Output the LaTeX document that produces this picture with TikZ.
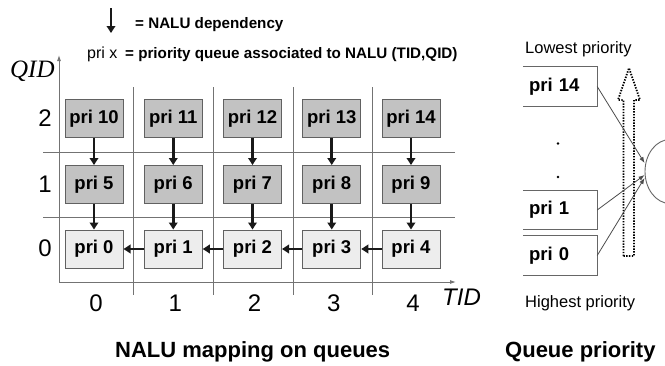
\documentclass[tikz,border=0pt]{standalone}
\usepackage{fontspec}
\setmainfont{Liberation Sans}
\newfontfamily\serifit{Liberation Serif}
\usetikzlibrary{arrows.meta,shapes.geometric,calc}
\newcommand\setfs[1]{\fontsize{#1}{#1}\selectfont}
\begin{document}
\begin{tikzpicture}[x=1pt,y=-1pt,
  gridln/.style={draw=black!55, line width=0.9pt},
  axisln/.style={draw=black!55, line width=0.9pt, -{Latex[length=6pt,width=4pt]}},
  qbox/.style={draw=black!62, line width=1pt, minimum width=58pt, minimum height=38pt, inner sep=0pt, font=\setfs{18.5}\bfseries},
  hi/.style={qbox, fill=black!24},
  lo/.style={qbox, fill=black!7},
  dep/.style={draw=black!90, line width=2.7pt, -{Triangle[length=7pt,width=8.5pt]}},
  rowlab/.style={inner sep=0pt, font=\setfs{24}},
  collab/.style={inner sep=0pt, font=\setfs{24}},
  legtxt/.style={inner sep=0pt, anchor=base west, font=\setfs{15.2}\bfseries},
  title/.style={inner sep=0pt, anchor=base west, font=\setfs{22}\bfseries},
  prio/.style={inner sep=0pt, anchor=base west, font=\setfs{16.5}},
  queue/.style={minimum width=74pt, minimum height=39pt, inner xsep=6pt, inner ysep=0pt, text width=62pt, align=left, font=\setfs{18.5}\bfseries},
  qside/.style={draw=black!60, line width=1pt},
  thinarr/.style={draw=black!70, line width=0.8pt, -{Latex[length=6pt,width=4.5pt]}},
  hollow/.style={draw=black, line width=1.8pt, dash pattern=on 1.4pt off 1.4pt}
]
\useasboundingbox (0,0) rectangle (665,365);

% legend
\coordinate (lgtop) at (111,8);
\coordinate (lgbot) at (111,33);
\draw[dep] (lgtop) -- (lgbot);
\node[legtxt] (lgdep) at (135,28) {= NALU dependency};
\node[inner sep=0pt, anchor=base west, font=\setfs{16}] (lgpri) at (87,58) {pri x};
\node[legtxt] (lgq) at (125,58) {= priority queue associated to NALU (TID,QID)};

% grid lines
\foreach \gx in {133,213,293,372} \draw[gridln] (\gx,87) -- (\gx,295);
\foreach \gy in {152,217} \draw[gridln] (43,\gy) -- (455,\gy);

% axes
\coordinate (orig) at (59,282);
\coordinate (ytip) at (59,55);
\coordinate (xtip) at (456,282);
\draw[axisln] (orig) -- (ytip);
\draw[axisln] (orig) -- (xtip);
\node[inner sep=0pt, anchor=base west, font=\setfs{25}\serifit\itshape] (qid) at (10,77) {QID};
\node[inner sep=0pt, anchor=base west, font=\setfs{24}\itshape] (tid) at (442,305) {TID};

% row labels
\node[rowlab] (r2) at (45,118.5) {2};
\node[rowlab] (r1) at (45,184.5) {1};
\node[rowlab] (r0) at (45,248) {0};

% boxes
\foreach \c/\x in {0/94,1/173.25,2/252.5,3/331.75,4/411} {
  \pgfmathtruncatemacro\pa{\c+10}
  \pgfmathtruncatemacro\pb{\c+5}
  \node[hi] (b\c2) at (\x,118.5) {pri \pa};
  \node[hi] (b\c1) at (\x,184.5) {pri \pb};
  \node[lo] (b\c0) at (\x,249) {pri \c};
  \draw[dep] (b\c2) -- (b\c1);
  \draw[dep] (b\c1) -- (b\c0);
  \node[collab] (cl\c) at (\x+2,303) {\c};
}
\foreach \a/\b in {1/0,2/1,3/2,4/3} \draw[dep] (b\a0) -- (b\b0);

% titles
\node[title] (t1) at (115,357) {NALU mapping on queues};
\node[title] (t2) at (505,357) {Queue priority};

% right part
\node[prio] (lowest) at (525,53) {Lowest priority};
\node[prio] (highest) at (525,307) {Highest priority};

\node[queue] (q14) at (560,86.5) {pri 14};
\node[queue] (q1) at (560,210) {pri 1};
\node[queue] (q0) at (560,255.5) {pri 0};
\foreach \q in {q14,q1,q0}
  \draw[qside] (\q.north west) -- (\q.north east) -- (\q.south east) -- (\q.south west);

\fill (558,143.5) circle (1.3pt);
\fill (558,177) circle (1.3pt);

% hollow dotted arrow
\draw[hollow] (623.5,256) -- (623.5,100) -- (618,100) -- (629,68) -- (640,100) -- (634,100) -- (634,256) -- cycle;

\begin{scope}
\clip (0,0) rectangle (665,365);
\node[ellipse, draw=black!60, line width=0.9pt, minimum width=50pt, minimum height=64pt, inner sep=0pt] (sched) at (670,171.5) {};
\end{scope}

\draw[thinarr] (q14.east) -- ($(sched.west)+(0,-8.5)$);
\draw[thinarr] (q1.east) -- ($(sched.west)+(0,3.5)$);
\draw[thinarr] (q0.east) -- ($(sched.west)+(0,6.5)$);
\end{tikzpicture}
\end{document}
